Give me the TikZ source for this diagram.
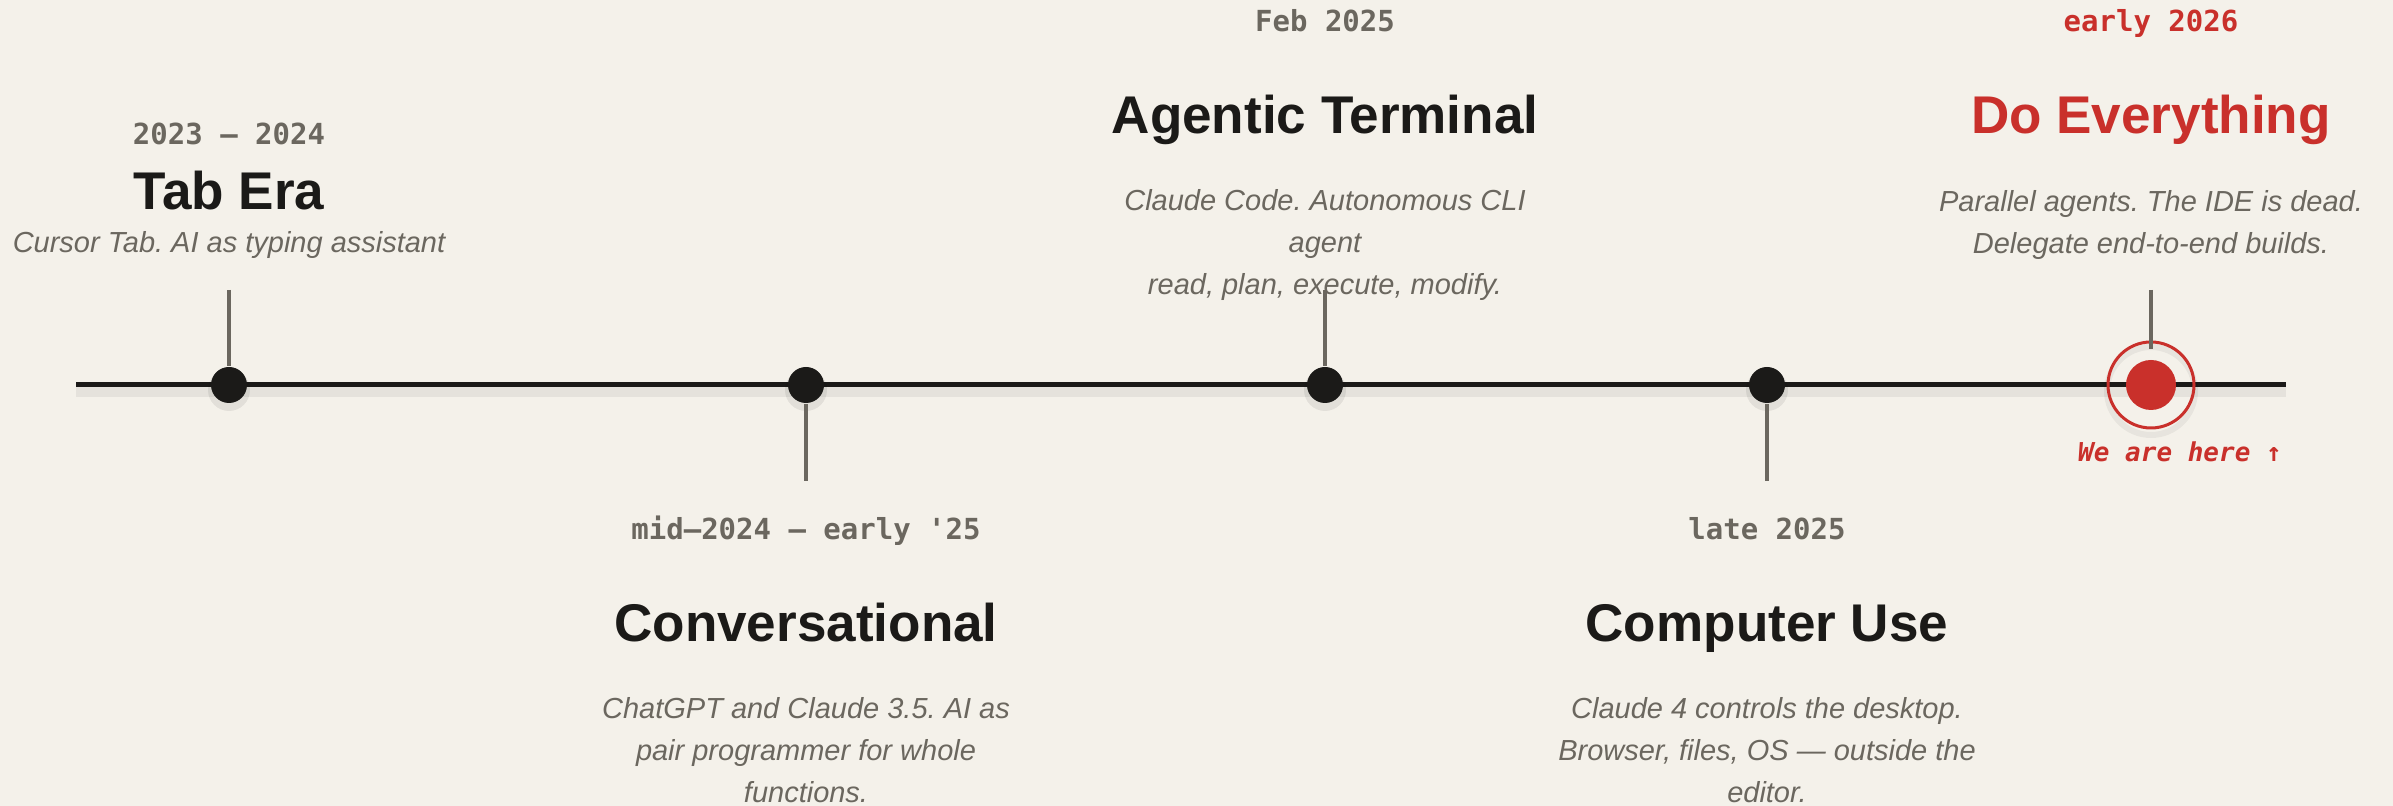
\documentclass[tikz,border=0pt]{standalone}
\usepackage{fontspec}
\setmainfont{Liberation Sans}
\newfontfamily\datefont{DejaVu Sans Mono}
\frenchspacing
\usetikzlibrary{positioning}
\definecolor{paper}{HTML}{F4F1EA}
\definecolor{ink}{HTML}{1B1A18}
\definecolor{muted}{HTML}{6B675F}
\definecolor{accent}{HTML}{C9302B}
\tikzset{
	axis/.style={draw=ink,line width=0.5mm},
	axis shadow/.style={draw=black,opacity=0.06,line width=1.4mm},
	stem/.style={draw=muted,line width=0.4mm},
	dot/.style={circle,fill=ink,inner sep=0pt,minimum size=3.6mm},
	dot now/.style={circle,fill=accent,inner sep=0pt,minimum size=5mm},
	ring/.style={circle,draw=accent,line width=0.3mm,inner sep=0pt,minimum size=8.6mm},
	era date/.style={font=\datefont\bfseries\fontsize{8.25}{10}\selectfont,text=muted,anchor=base,inner sep=0pt},
	era title/.style={font=\bfseries\fontsize{15.1}{18}\selectfont,text=ink,anchor=base,inner sep=0pt},
	era text/.style={font=\itshape\fontsize{8.25}{11.95}\selectfont,text=muted,align=center,anchor=base,inner sep=0pt},
	here/.style={font=\datefont\bfseries\itshape\fontsize{7.4}{9}\selectfont,text=accent,anchor=base,inner sep=0pt}
}

\begin{document}
\begin{tikzpicture}[x=0.1mm,y=-0.1mm]
	\fill[paper] (0,0) rectangle (2393,806);
	\useasboundingbox (0,0) rectangle (2393,806);

	\coordinate (start) at (76,385);
	\coordinate (end)   at (2286,385);
	\draw[axis shadow] ([yshift=-0.5mm]start) -- ([yshift=-0.5mm]end);
	\draw[axis] (start) -- (end);

	% eras along the line
	\foreach \x in {229,806,1325,1767} { \fill[black,opacity=0.07] (\x,390) circle[radius=2.1mm]; }
	\draw[black,opacity=0.05,line width=0.6mm] (2151,391) circle[radius=4.4mm];
	\node[dot] (tab)  at (229,385)  {};
	\node[dot] (conv) at (806,385)  {};
	\node[dot] (term) at (1325,385) {};
	\node[dot] (comp) at (1767,385) {};
	\node[ring] (ring) at (2151,385) {};
	\node[dot now] (now) at (ring.center) {};

	\coordinate (tab top)  at (229,290);
	\coordinate (conv bot) at (806,481);
	\coordinate (term top) at (1325,290);
	\coordinate (comp bot) at (1767,481);
	\coordinate (now top)  at (2151,290);
	\draw[stem] (tab top)  -- (tab);
	\draw[stem] (conv bot) -- (conv);
	\draw[stem] (term top) -- (term);
	\draw[stem] (comp bot) -- (comp);
	\draw[stem] (now top)  -- ([yshift=1mm]now.north);

	% multi-line texts sit on the baseline of their last line
	\node[era date]  (tab date)  at (229,145) {2023 — 2024};
	\node[era title] (tab title) at (229,210) {Tab Era};
	\node[era text]  (tab text)  at (229,253) {Cursor Tab. AI as typing assistant};

	\node[era date]  (conv date)  at (806,540) {mid–2024 — early \char"27 25};
	\node[era title] (conv title) at (806,642) {Conversational};
	\node[era text]  (conv text)  at (806,803) {ChatGPT and Claude 3.5. AI as\\pair programmer for whole\\functions.};

	\node[era date]  (term date)  at (1325,32)  {Feb 2025};
	\node[era title] (term title) at (1325,134) {Agentic Terminal};
	\node[era text]  (term text)  at (1325,295) {Claude Code. Autonomous CLI\\agent\\read, plan, execute, modify.};

	\node[era date]  (comp date)  at (1767,540) {late 2025};
	\node[era title] (comp title) at (1767,642) {Computer Use};
	\node[era text]  (comp text)  at (1767,803) {Claude 4 controls the desktop.\\Browser, files, OS — outside the\\editor.};

	\node[era date,text=accent]  (now date)  at (2151,32)  {early 2026};
	\node[era title,text=accent] (now title) at (2151,134) {Do Everything};
	\node[era text]              (now text)  at (2151,254) {Parallel agents. The IDE is dead.\\Delegate end-to-end builds.};

	\node[here] (here) at (2180,462) {We are here ↑};
\end{tikzpicture}
\end{document}
